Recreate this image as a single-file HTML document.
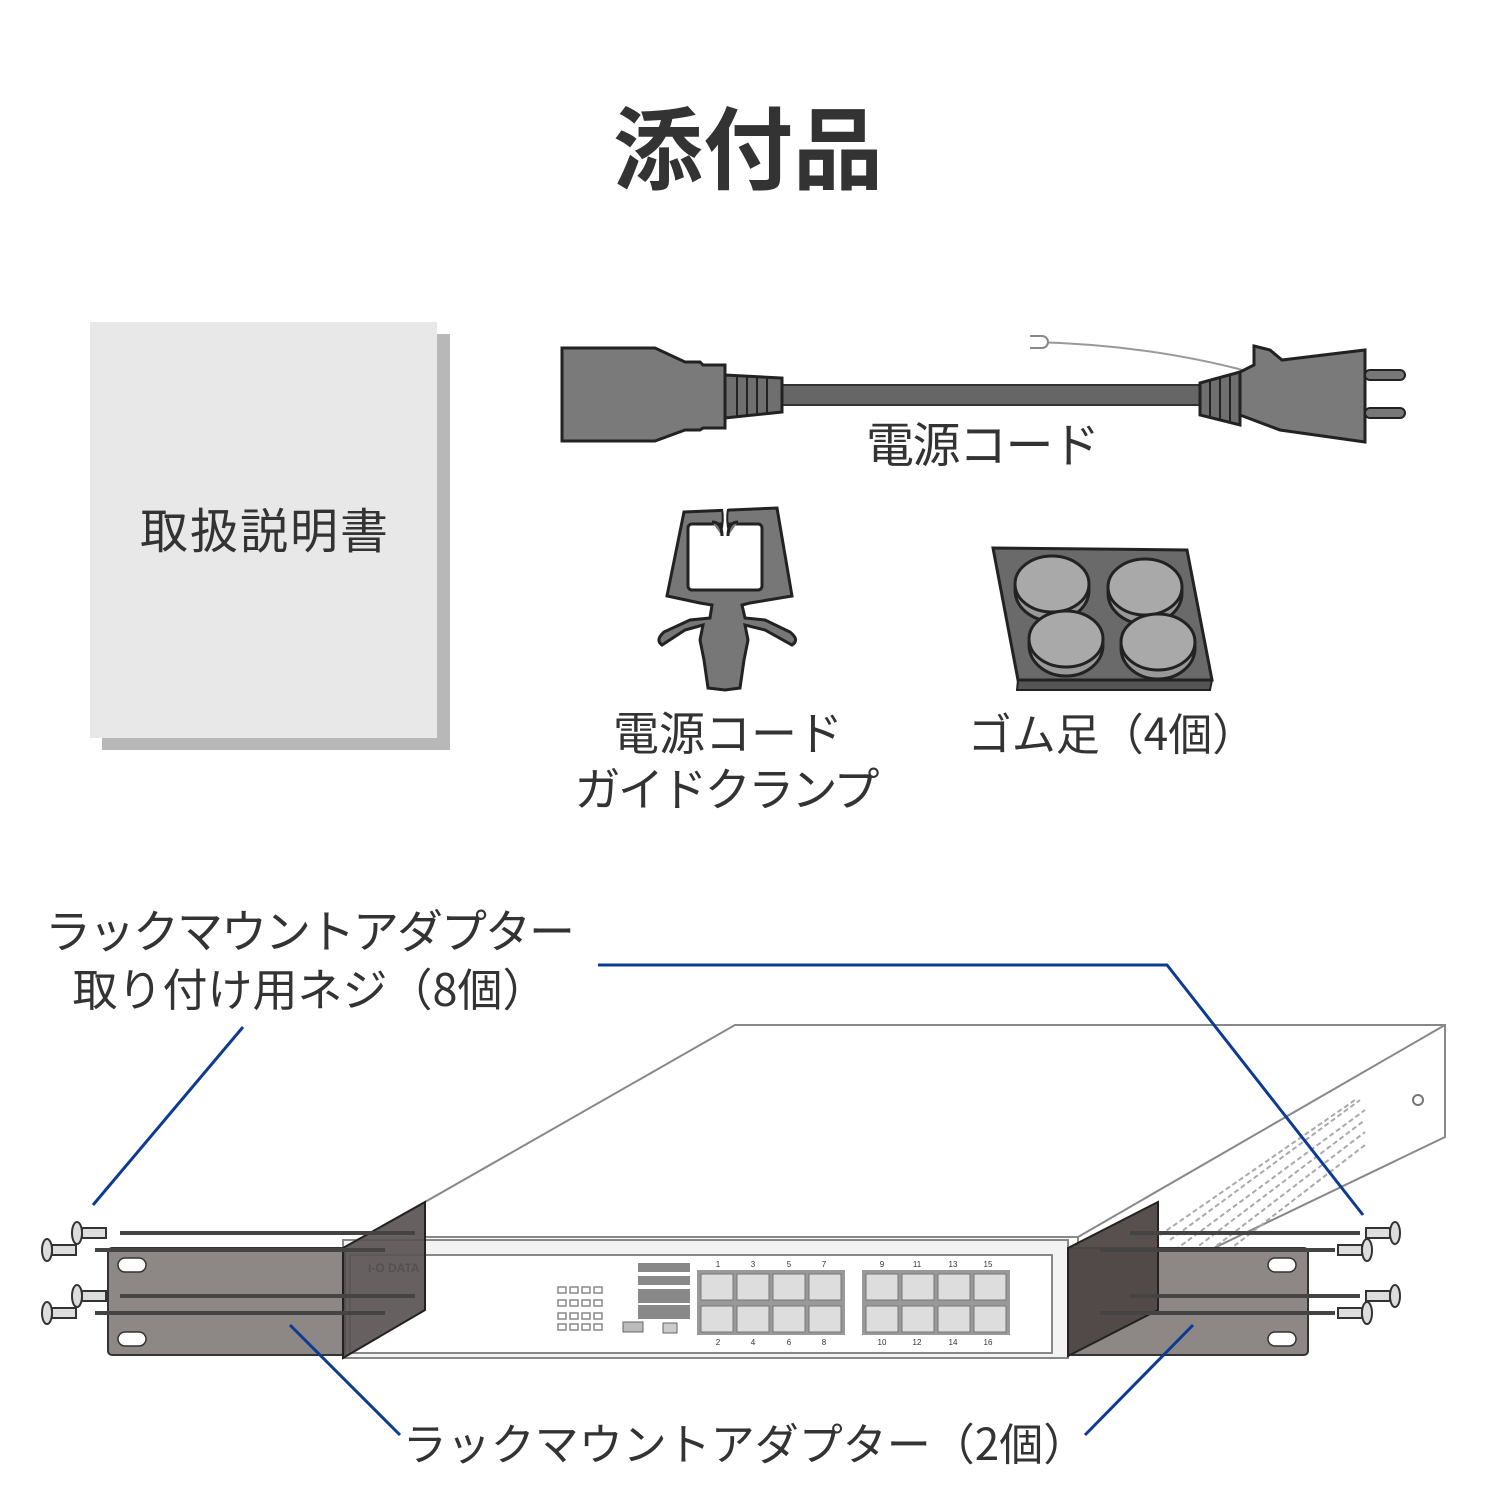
<!DOCTYPE html>
<html><head><meta charset="utf-8"><style>
html,body{margin:0;padding:0;background:#fff;}
svg{display:block;}
text{font-family:"Liberation Sans","Noto Sans CJK JP",sans-serif;fill:#333;}
.j{font-family:"Noto Sans CJK JP",sans-serif;}
</style></head><body>
<svg width="1500" height="1500" viewBox="0 0 1500 1500" xmlns="http://www.w3.org/2000/svg">
<rect width="1500" height="1500" fill="#fff"/>
<text x="748" y="182" font-size="90" font-weight="bold" text-anchor="middle" fill="#333">添付品</text>

<!-- manual -->
<rect x="102" y="334" width="348" height="416" fill="#b8b8b8"/>
<rect x="90" y="322" width="347" height="416" fill="#e8e8e8"/>
<text x="264" y="548" font-size="48" text-anchor="middle" textLength="248">取扱説明書</text>

<!-- power cord -->
<path d="M1035 342 Q1150 345 1250 372" stroke="#999" stroke-width="2" fill="none"/>
<path d="M1030 336 h12 a6 6 0 0 1 0 12 h-12" stroke="#888" stroke-width="2" fill="#fff"/>
<rect x="780" y="385" width="420" height="20" fill="#666" stroke="#333" stroke-width="2"/>
<path d="M562 348 H655 L685 362 L700 362 L703 365 H725 V428 H703 L700 430 L685 430 L655 441 H562 Z" fill="#7a7a7a" stroke="#222" stroke-width="3"/>
<path d="M725 375 L782 378 V412 L725 418 Z" fill="#6f6f6f" stroke="#222" stroke-width="3"/>
<g stroke="#222" stroke-width="2"><line x1="737" y1="376" x2="737" y2="417"/><line x1="747" y1="376" x2="747" y2="417"/><line x1="757" y1="377" x2="757" y2="415"/><line x1="767" y1="377" x2="767" y2="414"/></g>
<path d="M1200 383 L1240 372 V425 L1200 415 Z" fill="#6f6f6f" stroke="#222" stroke-width="3"/>
<g stroke="#222" stroke-width="2"><line x1="1210" y1="381" x2="1210" y2="416"/><line x1="1220" y1="378" x2="1220" y2="419"/><line x1="1230" y1="375" x2="1230" y2="422"/></g>
<path d="M1254 346 L1270 350 L1282 360 L1365 350 V442 L1280 430 L1240 415 V372 L1254 365 Z" fill="#7a7a7a" stroke="#222" stroke-width="3"/>
<rect x="1365" y="370" width="40" height="10" rx="5" fill="#777" stroke="#222" stroke-width="2"/>
<rect x="1365" y="408" width="40" height="10" rx="5" fill="#777" stroke="#222" stroke-width="2"/>
<text x="983" y="462" font-size="48" text-anchor="middle" textLength="234">電源コード</text>

<!-- clamp -->
<path d="M684 512 L777 508 L792 596 L750 603 L742 605 L745 618 L765 620 L790 632 Q800 640 792 645 L765 630 L745 625 L748 640 L744 660 L740 688 L725 690 L708 688 L704 660 L700 640 L703 625 L685 630 L662 645 Q655 640 664 632 L690 620 L710 618 L712 605 L700 603 L667 596 Z" fill="#777" stroke="#222" stroke-width="3"/>
<rect x="688" y="524" width="74" height="66" rx="4" fill="#fff" stroke="#222" stroke-width="3"/>
<path d="M712 522 Q722 522 722 536 M738 522 Q728 522 728 536" stroke="#222" stroke-width="3" fill="#777"/>
<rect x="722" y="505" width="6" height="22" fill="#fff"/>
<path d="M722 509 Q724 520 721 532 M728 509 Q726 520 729 532" stroke="#222" stroke-width="2" fill="none"/>
<text x="728" y="750" font-size="46" text-anchor="middle" textLength="230">電源コード</text>
<text x="727" y="806" font-size="46" text-anchor="middle" textLength="305">ガイドクランプ</text>

<!-- rubber feet -->
<path d="M1018 680 L1212 680 L1210 690 L1017 690 Z" fill="#555" stroke="#222" stroke-width="2"/>
<path d="M993 548 L1187 550 L1212 680 L1018 680 Z" fill="#6a6a6a" stroke="#222" stroke-width="3"/>
<g fill="#999" stroke="#222" stroke-width="3">
<ellipse cx="1052" cy="590" rx="37" ry="31"/><ellipse cx="1145" cy="593" rx="37" ry="31"/>
<ellipse cx="1066" cy="645" rx="37" ry="31"/><ellipse cx="1158" cy="648" rx="37" ry="31"/>
</g>
<g fill="#a9a9a9" stroke="#222" stroke-width="3">
<ellipse cx="1052" cy="584" rx="37" ry="28"/><ellipse cx="1145" cy="587" rx="37" ry="28"/>
<ellipse cx="1066" cy="639" rx="37" ry="28"/><ellipse cx="1158" cy="642" rx="37" ry="28"/>
</g>
<text class="j" x="1112" y="750" font-size="44" text-anchor="middle">ゴム足（4個）</text>

<!-- labels bottom -->
<text x="45" y="948" font-size="46" textLength="530">ラックマウントアダプター</text>
<text class="j" x="310" y="1006" font-size="45" text-anchor="middle">取り付け用ネジ（8個）</text>
<text class="j" x="745" y="1460" font-size="44" text-anchor="middle">ラックマウントアダプター（2個）</text>

<!-- switch -->
<path d="M735 1025 L1445 1025 L1445 1137 L1189 1260 L1078 1260 L1078 1237 L425 1237 L425 1202 Z" fill="#fff" stroke="#888" stroke-width="2"/>
<path d="M1445 1025 L1078 1237" stroke="#888" stroke-width="2"/>
<g fill="none" stroke="#aaa" stroke-width="2" stroke-dasharray="5 3">
<path d="M1170 1240 L1360 1100"/><path d="M1175 1250 L1365 1110"/><path d="M1180 1260 L1365 1120"/><path d="M1185 1270 L1365 1132"/><path d="M1190 1280 L1365 1145"/><path d="M1160 1235 L1355 1100"/>
</g>
<circle cx="1418" cy="1100" r="5" fill="none" stroke="#777" stroke-width="2"/>
<rect x="343" y="1240" width="725" height="118" fill="#f3f3f3" stroke="#888" stroke-width="2"/>
<rect x="350" y="1255" width="702" height="98" fill="#fff" stroke="#888" stroke-width="2"/>
<text x="368" y="1272" font-size="12" font-weight="bold" fill="#777">I-O DATA</text>
<g fill="#888"><rect x="638" y="1263" width="52" height="9"/><rect x="638" y="1276" width="52" height="9"/><rect x="638" y="1289" width="52" height="14"/><rect x="638" y="1305" width="52" height="14"/></g>
<rect x="623" y="1322" width="20" height="10" fill="#bbb" stroke="#666"/>
<rect x="663" y="1323" width="14" height="10" fill="#ccc" stroke="#666"/>
<g fill="none" stroke="#888" stroke-width="1.5">
<rect x="558" y="1287" width="8" height="6"/><rect x="570" y="1287" width="8" height="6"/><rect x="582" y="1287" width="8" height="6"/><rect x="594" y="1287" width="8" height="6"/>
<rect x="558" y="1300" width="8" height="6"/><rect x="570" y="1300" width="8" height="6"/><rect x="582" y="1300" width="8" height="6"/><rect x="594" y="1300" width="8" height="6"/>
<rect x="558" y="1313" width="8" height="6"/><rect x="570" y="1313" width="8" height="6"/><rect x="582" y="1313" width="8" height="6"/><rect x="594" y="1313" width="8" height="6"/>
<rect x="558" y="1324" width="8" height="6"/><rect x="570" y="1324" width="8" height="6"/><rect x="582" y="1324" width="8" height="6"/><rect x="594" y="1324" width="8" height="6"/>
</g>
<g fill="#999">
<rect x="697" y="1270" width="148" height="65"/><rect x="862" y="1270" width="148" height="65"/>
</g>
<g fill="#ddd" stroke="#777" stroke-width="1">
<rect x="701" y="1274" width="32" height="26"/><rect x="737" y="1274" width="32" height="26"/><rect x="773" y="1274" width="32" height="26"/><rect x="809" y="1274" width="32" height="26"/>
<rect x="701" y="1306" width="32" height="26"/><rect x="737" y="1306" width="32" height="26"/><rect x="773" y="1306" width="32" height="26"/><rect x="809" y="1306" width="32" height="26"/>
<rect x="866" y="1274" width="32" height="26"/><rect x="902" y="1274" width="32" height="26"/><rect x="938" y="1274" width="32" height="26"/><rect x="974" y="1274" width="32" height="26"/>
<rect x="866" y="1306" width="32" height="26"/><rect x="902" y="1306" width="32" height="26"/><rect x="938" y="1306" width="32" height="26"/><rect x="974" y="1306" width="32" height="26"/>
</g>
<g font-size="8" fill="#555" text-anchor="middle">
<text x="718" y="1267">1</text><text x="753" y="1267">3</text><text x="789" y="1267">5</text><text x="824" y="1267">7</text>
<text x="882" y="1267">9</text><text x="917" y="1267">11</text><text x="953" y="1267">13</text><text x="988" y="1267">15</text>
<text x="718" y="1345">2</text><text x="753" y="1345">4</text><text x="789" y="1345">6</text><text x="824" y="1345">8</text>
<text x="882" y="1345">10</text><text x="917" y="1345">12</text><text x="953" y="1345">14</text><text x="988" y="1345">16</text>
</g>

<!-- brackets -->
<rect x="108" y="1248" width="237" height="107" rx="4" fill="#8d8786" stroke="#333" stroke-width="2"/>
<rect x="1068" y="1248" width="240" height="107" rx="4" fill="#8d8786" stroke="#333" stroke-width="2"/>
<path d="M343 1248 L425 1202 L425 1310 L343 1358 Z" fill="#5a5352" fill-opacity="0.92" stroke="#222" stroke-width="2"/>
<path d="M1068 1248 L1158 1202 L1158 1310 L1068 1356 Z" fill="#4e4746" fill-opacity="0.95" stroke="#222" stroke-width="2"/>
<g fill="#fff" stroke="#333" stroke-width="1.5">
<rect x="118" y="1258" width="28" height="14" rx="7"/><rect x="118" y="1332" width="28" height="14" rx="7"/>
<rect x="1268" y="1258" width="28" height="14" rx="7"/><rect x="1268" y="1332" width="28" height="14" rx="7"/>
</g>
<g stroke="#444" stroke-width="4">
<line x1="120" y1="1233" x2="415" y2="1233"/><line x1="95" y1="1250" x2="385" y2="1250"/>
<line x1="120" y1="1296" x2="415" y2="1296"/><line x1="95" y1="1313" x2="385" y2="1313"/>
<line x1="1130" y1="1233" x2="1360" y2="1233"/><line x1="1100" y1="1250" x2="1335" y2="1250"/>
<line x1="1130" y1="1296" x2="1360" y2="1296"/><line x1="1100" y1="1313" x2="1335" y2="1313"/>
</g>
<g fill="#ddd" stroke="#333" stroke-width="2">
<ellipse cx="77" cy="1233" rx="5" ry="11"/><ellipse cx="47" cy="1250" rx="5" ry="11"/>
<ellipse cx="77" cy="1296" rx="5" ry="11"/><ellipse cx="47" cy="1313" rx="5" ry="11"/>
<ellipse cx="1395" cy="1233" rx="5" ry="11"/><ellipse cx="1367" cy="1250" rx="5" ry="11"/>
<ellipse cx="1395" cy="1296" rx="5" ry="11"/><ellipse cx="1367" cy="1313" rx="5" ry="11"/>
<rect x="82" y="1228" width="24" height="10"/><rect x="52" y="1245" width="24" height="10"/>
<rect x="82" y="1291" width="24" height="10"/><rect x="52" y="1308" width="24" height="10"/>
<rect x="1366" y="1228" width="24" height="10"/><rect x="1338" y="1245" width="24" height="10"/>
<rect x="1366" y="1291" width="24" height="10"/><rect x="1338" y="1308" width="24" height="10"/>
</g>

<!-- blue leader lines -->
<g stroke="#0d3b94" stroke-width="3" fill="none">
<path d="M598 965 H1167 L1363 1215"/>
<path d="M243 1027 L93 1205"/>
<path d="M290 1325 L400 1435"/>
<path d="M1193 1325 L1085 1435"/>
</g>
</svg>
</body></html>
